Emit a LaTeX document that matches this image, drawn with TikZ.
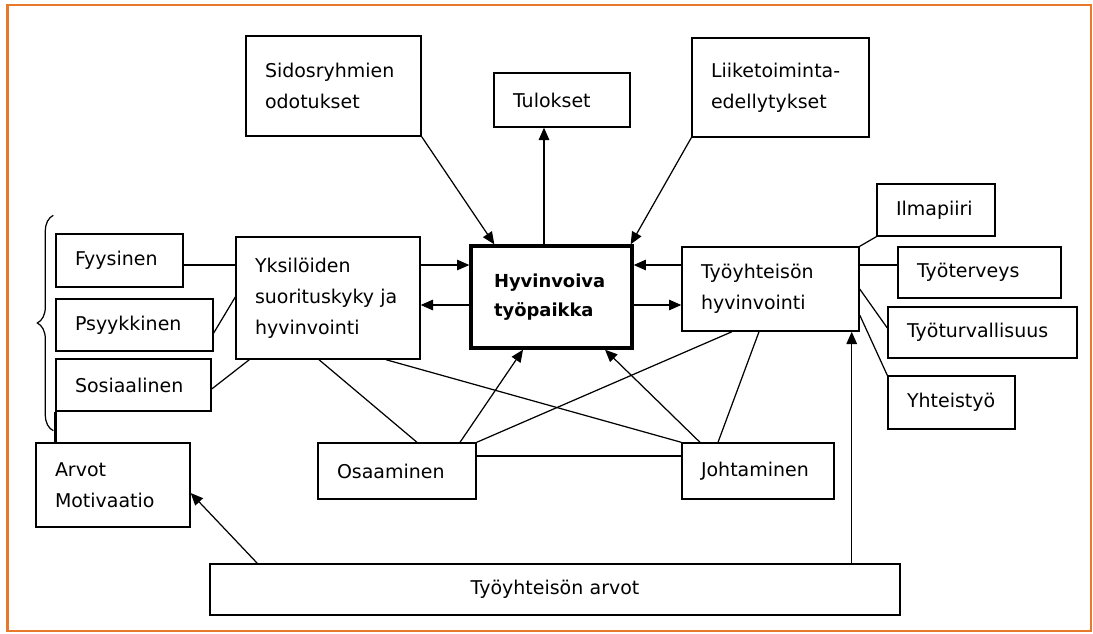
\documentclass[tikz,border=0pt]{standalone}
\usepackage{fontspec}
\setmainfont{DejaVu Sans}
\usepackage{xcolor}
\usepackage{tikz}
\usetikzlibrary{
  arrows.meta,
  decorations.pathreplacing
}
\definecolor{wporange}{HTML}{E8782A}
\hyphenpenalty=10000
\exhyphenpenalty=10000

\begin{document}
\begin{tikzpicture}[
  every node/.style={font=\fontsize{10.8}{17.6}\selectfont},
  box/.style={rectangle, draw, line width=0.8pt, fill=white,
              inner xsep=0.38cm, inner ysep=0pt, align=left},
  core/.style={box, line width=1.9pt, inner xsep=0.46cm,
               font=\fontsize{10.2}{16.8}\selectfont\bfseries},
  arr/.style={-{Triangle[length=7pt,width=6pt]}, line width=0.7pt},
  link/.style={line width=0.7pt},
  frame/.style={draw=wporange, line width=1.2pt},
]

% -- Canvas and frame ----------------------------
\fill[white] (0,0) rectangle (21.86,-12.66);
\useasboundingbox (0,0) rectangle (21.86,-12.66);
\draw[frame] (0.15,-0.1) rectangle (21.82,-12.62);

% -- Row levels for horizontal links -------------
\coordinate (rowA) at (0,-5.3);
\coordinate (rowB) at (0,-6.1);
\coordinate (rowC) at (0,-9.12);

% -- Top row -------------------------------------
\node[box, minimum width=3.5cm, minimum height=2cm, text width=2.74cm]
  (sido) at (6.67,-1.72) {Sidosryhmien\\odotukset};
\node[box, minimum width=2.72cm, minimum height=1.08cm, text width=1.96cm]
  (tul) at (11.24,-2.0) {Tulokset};
\node[box, minimum width=3.54cm, minimum height=1.98cm, text width=2.78cm]
  (liike) at (15.61,-1.75) {Liiketoiminta-\\edellytykset};

% -- Middle row ----------------------------------
\node[core, minimum width=3.22cm, minimum height=2.04cm, text width=2.3cm]
  (hyv) at (11.03,-5.94) {Hyvinvoiva\\työpaikka};
\node[box, minimum width=3.68cm, minimum height=2.44cm, text width=2.92cm]
  (yks) at (6.56,-5.96) {Yksilöiden\\suorituskyky~ja\\hyvinvointi};
\node[box, minimum width=3.54cm, minimum height=1.68cm, text width=2.78cm]
  (tyhv) at (15.41,-5.78) {Työyhteisön\\hyvinvointi};

% -- Left column ---------------------------------
\node[box, minimum width=2.54cm, minimum height=1.06cm, text width=1.78cm]
  (fyys) at (2.39,-5.21) {Fyysinen};
\node[box, minimum width=3.14cm, minimum height=1.04cm, text width=2.38cm]
  (psyk) at (2.69,-6.5) {Psyykkinen};
\node[box, minimum width=3.1cm, minimum height=1.04cm, text width=2.34cm]
  (sosi) at (2.67,-7.7) {Sosiaalinen};
\node[box, minimum width=3.08cm, minimum height=1.68cm, text width=2.32cm]
  (arvot) at (2.26,-9.7) {Arvot\\Motivaatio};

% -- Right column --------------------------------
\node[box, minimum width=2.36cm, minimum height=1.04cm, text width=1.6cm]
  (ilma) at (18.72,-4.2) {Ilmapiiri};
\node[box, minimum width=3.26cm, minimum height=1.02cm, text width=2.5cm]
  (tter) at (19.59,-5.45) {Työterveys};
\node[box, minimum width=3.78cm, minimum height=1.02cm, text width=3.02cm]
  (tturv) at (19.65,-6.65) {Työturvallisuus};
\node[box, minimum width=2.54cm, minimum height=1.06cm, text width=1.78cm]
  (yhteis) at (19.03,-8.05) {Yhteistyö};

% -- Bottom rows ---------------------------------
\node[box, minimum width=3.16cm, minimum height=1.12cm, text width=2.4cm]
  (osaa) at (7.94,-9.42) {Osaaminen};
\node[box, minimum width=3.04cm, minimum height=1.12cm, text width=2.28cm]
  (johta) at (15.16,-9.42) {Johtaminen};
\node[box, minimum width=13.8cm, minimum height=1.02cm, text width=13.04cm, align=center]
  (tarvot) at (11.1,-11.79) {Työyhteisön arvot};

% -- Arrows into and out of the core -------------
\draw[arr] (sido.south east) -- ([xshift=0.5cm]hyv.north west);
\draw[arr] ([xshift=-0.15cm]hyv.north) -- ([xshift=-0.15cm]hyv.north |- tul.south);
\draw[arr] (liike.south west) -- ([xshift=-0.06cm]hyv.north east);
\draw[arr] (yks.east |- rowA) -- (hyv.west |- rowA);
\draw[arr] (hyv.west |- rowB) -- (yks.east |- rowB);
\draw[arr] (tyhv.west |- rowA) -- (hyv.east |- rowA);
\draw[arr] (hyv.east |- rowB) -- (tyhv.west |- rowB);
\draw[arr] ([xshift=1.26cm]osaa.north) -- ([xshift=-0.57cm]hyv.south);
\draw[arr] ([xshift=-1.16cm]johta.north) -- ([xshift=1.07cm]hyv.south);

% -- Individual side -----------------------------
\draw[link] (fyys.east |- rowA) -- (yks.west |- rowA);
\draw[link] ([yshift=-0.16cm]psyk.east) -- ([yshift=0.02cm]yks.west);
\draw[link] ([yshift=-0.08cm]sosi.east) -- ([xshift=0.28cm]yks.south west);
\draw[line width=1.7pt] (sosi.south west) -- (sosi.south west |- arvot.north);
\draw[link, decorate, decoration={brace, amplitude=0.32cm}]
  ([shift={(-0.04cm,-0.38cm)}]sosi.south west)
  -- ([shift={(-0.04cm,0.36cm)}]fyys.north west);

% -- Cross links ---------------------------------
\draw[link] ([xshift=-0.18cm]yks.south) -- ([xshift=0.4cm]osaa.north);
\draw[link] ([xshift=1.16cm]yks.south) -- (johta.north west);
\draw[link] (osaa.north east) -- ([xshift=-0.77cm]tyhv.south);
\draw[link] ([xshift=-0.8cm]johta.north) -- ([xshift=-0.23cm]tyhv.south);
\draw[link] (osaa.east |- rowC) -- (johta.west |- rowC);

% -- Community side ------------------------------
\draw[link] (tyhv.north east) -- (ilma.south west);
\draw[link] (tyhv.east |- rowA) -- (tter.west |- rowA);
\draw[link] (tyhv.east) -- ([yshift=0.09cm]tturv.west);
\draw[link] ([yshift=-0.52cm]tyhv.east) -- (yhteis.north west);

% -- Values feeding back -------------------------
\draw[arr] ([xshift=0.96cm]tarvot.north west) -- ([yshift=-0.16cm]arvot.east);
\draw[arr] ([xshift=-0.16cm]tyhv.south east |- tarvot.north)
  -- ([xshift=-0.16cm]tyhv.south east);

\end{tikzpicture}
\end{document}
